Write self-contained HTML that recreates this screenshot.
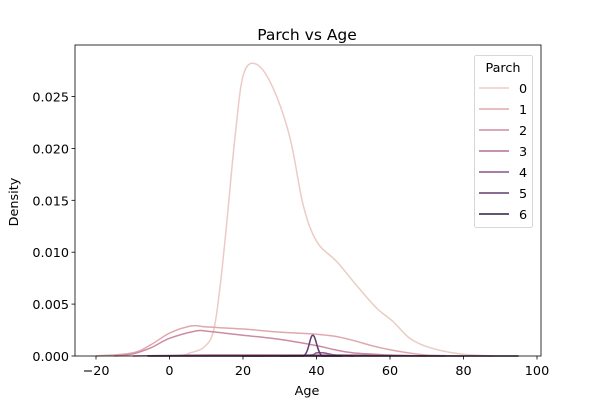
<!DOCTYPE html>
<html><head><meta charset="utf-8"><style>
body{margin:0;background:#fff}
svg{font-family:"DejaVu Sans","Liberation Sans",sans-serif}
</style></head><body>
<svg id="c" width="600" height="400" xmlns="http://www.w3.org/2000/svg"></svg>
<script>
const categories=["0","1","2","3","4","5","6"];
const colors=["#ebcbc5","#dfa8ae","#cd8ba2","#b06e98","#8b5488","#623b6d","#2d1e3e"];
const ages0=[-5,3,5.6,9.2,11.9,13.7,15.6,17.8,20.1,23.7,28.2,32.8,36.4,40.1,45.5,50.9,56.4,60.9,65.4,70.9,79,88];
const dens0=[0,0.00005,0.0003,0.0008,0.0023,0.0065,0.0129,0.021,0.0271,0.0281,0.0258,0.021,0.0145,0.011,0.0091,0.0068,0.0046,0.0033,0.0017,0.0008,0.0002,0];
const ages1=[-20,-10,-5,0,6,10,20,30,40,45,50,55,60,65,70,80];
const dens1=[0,0.0003,0.0011,0.0022,0.0029,0.0028,0.0026,0.0023,0.0021,0.0019,0.0015,0.001,0.0006,0.0003,0.0001,0];
const ages2=[-15,-10,-5,0,7,10,20,30,40,45,50,60,70];
const dens2=[0,0.0002,0.0008,0.0017,0.0024,0.0024,0.002,0.0016,0.001,0.0006,0.0003,0.0001,0];
const ages3=[-10,0,10,30,50,60,75];
const dens3=[0,0.00005,0.0001,0.0001,0.0001,0.00005,0];
const ages4=[20,37,40,42,45,50];
const dens4=[0,0.00005,0.0003,0.0003,0.0001,0];
const ages5=[30,36.5,39,41.5,47];
const dens5=[0,0,0.002,0,0];
const ages6=[-6,10,30,50,70,90,95];
const dens6=[0,0,0,0,0,0,0];
const series=[[ages0,dens0],[ages1,dens1],[ages2,dens2],[ages3,dens3],[ages4,dens4],[ages5,dens5],[ages6,dens6]];
const xTicks=[-20,0,20,40,60,80,100];
const yTicks=[0,0.005,0.01,0.015,0.02,0.025];
const yTickLabels=["0.000","0.005","0.010","0.015","0.020","0.025"];
const L=75,R=541,T=45,B=356;
const xs=v=>169.5+v*3.675;
const ys=v=>B-v*10380;
const svg=document.getElementById('c');
const NS="http://www.w3.org/2000/svg";
function mk(t,a,p){const e=document.createElementNS(NS,t);for(const k in a)e.setAttribute(k,a[k]);(p||svg).appendChild(e);return e;}
function path(xa,ya){const P=xa.map((x,i)=>[xs(x),Math.min(B,ys(ya[i]))]);let d="M"+P[0][0]+","+P[0][1];
for(let i=0;i<P.length-1;i++){const p0=P[i-1]||P[i],p1=P[i],p2=P[i+1],p3=P[i+2]||p2;
let c1y=p1[1]+(p2[1]-p0[1])/6,c2y=p2[1]-(p3[1]-p1[1])/6;c1y=Math.min(B,c1y);c2y=Math.min(B,c2y);
d+=` C${p1[0]+(p2[0]-p0[0])/6},${c1y} ${p2[0]-(p3[0]-p1[0])/6},${c2y} ${p2[0]},${p2[1]}`;}return d;}
series.forEach((s,i)=>{const e=mk('path',{d:path(s[0],s[1]),fill:'none',stroke:colors[i],'stroke-width':1.5});

});
const ax=mk('rect',{x:L,y:T,width:R-L,height:B-T,fill:'none',stroke:'#000','stroke-width':0.8});

xTicks.forEach(v=>{const x=xs(v);mk('line',{x1:x,x2:x,y1:B,y2:B+3.5,stroke:'#000','stroke-width':0.8});
const t=mk('text',{x:x,y:B+19,'text-anchor':'middle','font-size':12.8});t.textContent=(v<0?'\u2212'+(-v):v);
});
yTicks.forEach((v,i)=>{const y=ys(v);mk('line',{x1:L-3.5,x2:L,y1:y,y2:y,stroke:'#000','stroke-width':0.8});
const t=mk('text',{x:L-6,y:y+5,'text-anchor':'end','font-size':12.8});t.textContent=yTickLabels[i];
});
let t=mk('text',{x:307,y:40,'text-anchor':'middle','font-size':15.5});t.textContent="Parch vs Age";

t=mk('text',{x:307,y:395,'text-anchor':'middle','font-size':12.8});t.textContent="Age";

t=mk('text',{x:18,y:202,'text-anchor':'middle','font-size':12.8,transform:'rotate(-90 18 202)'});t.textContent="Density";

const g=mk('g',{});
mk('rect',{x:474.5,y:55.5,width:58,height:172,rx:2,fill:'#fff','fill-opacity':0.8,stroke:'#ccc','stroke-width':0.8},g);
t=mk('text',{x:503,y:72,'text-anchor':'middle','font-size':12.8},g);t.textContent="Parch";
categories.forEach((c,i)=>{const y=88+i*21;mk('line',{x1:479,x2:509,y1:y,y2:y,stroke:colors[i],'stroke-width':1.5},g);
const e=mk('text',{x:519,y:y+5,'font-size':12.8},g);e.textContent=c;
});
</script></body></html>
